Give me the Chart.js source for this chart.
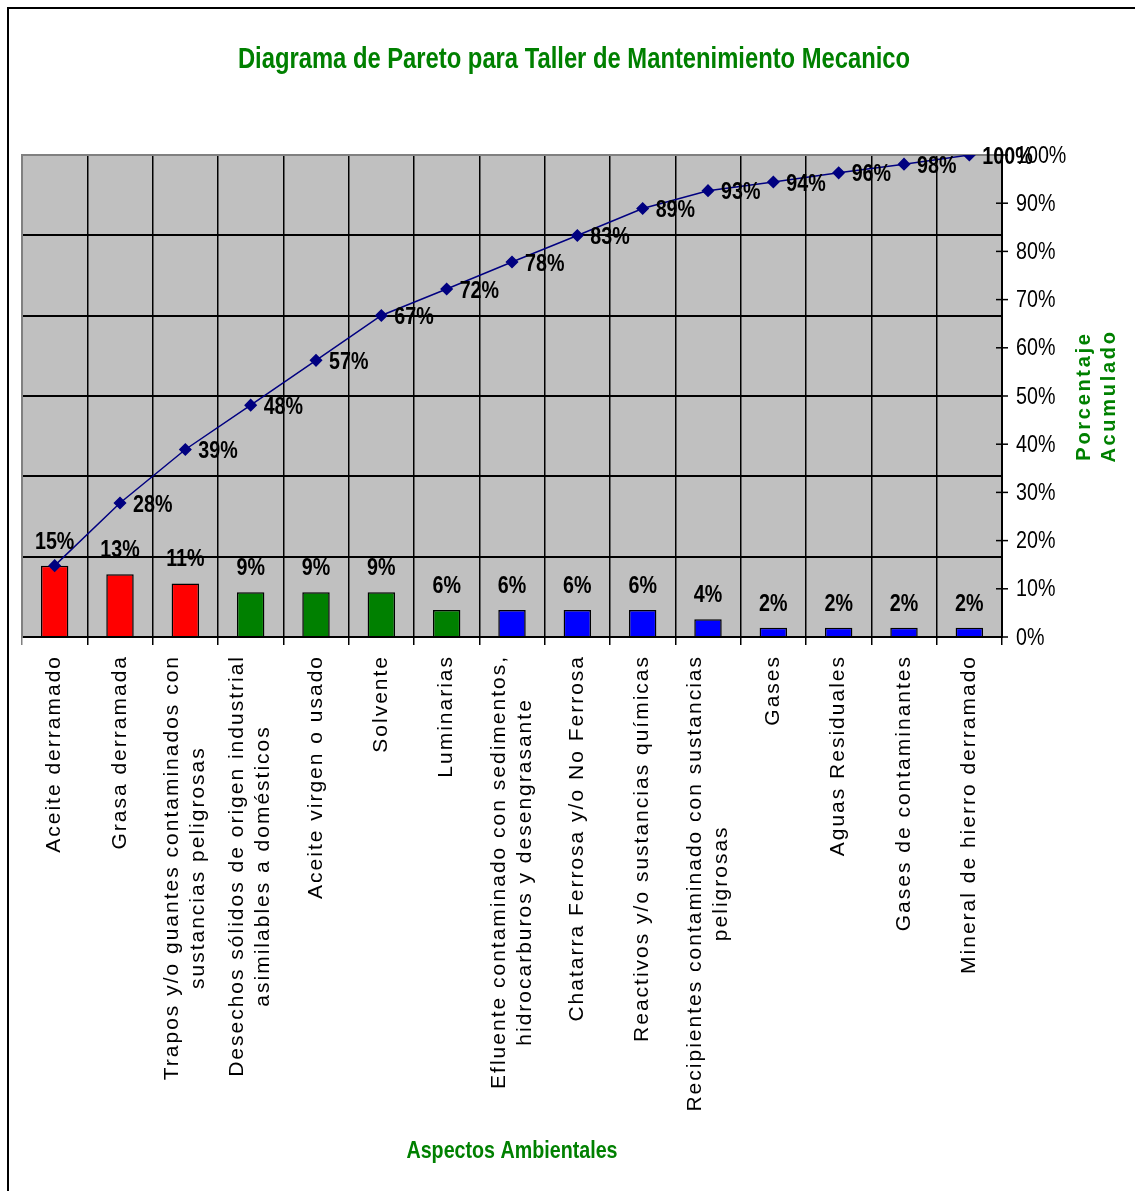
<!DOCTYPE html>
<html>
<head>
<meta charset="utf-8">
<script src="https://cdn.jsdelivr.net/npm/chart.js@4.4.1/dist/chart.umd.min.js"></script>
<style>
  html, body { margin: 0; padding: 0; background: #fff; }
</style>
</head>
<body>
<canvas id="paretoChart" width="1135" height="1191"></canvas>
<script>
// aspectos ambientales (eje x)
const categories = [
  'Aceite derramado',
  'Grasa derramada',
  ['Trapos y/o guantes contaminados con', 'sustancias peligrosas'],
  ['Desechos sólidos de origen industrial', 'asimilables a domésticos'],
  'Aceite virgen o usado',
  'Solvente',
  'Luminarias',
  ['Efluente contaminado con sedimentos,', 'hidrocarburos y desengrasante'],
  'Chatarra Ferrosa y/o No Ferrosa',
  'Reactivos y/o sustancias químicas',
  ['Recipientes contaminado con sustancias', 'peligrosas'],
  'Gases',
  'Aguas Residuales',
  'Gases de contaminantes',
  'Mineral de hierro derramado'
];
// porcentaje de cada aspecto
const barPercent = [14.8, 13.0, 11.1, 9.3, 9.3, 9.3, 5.6, 5.6, 5.6, 5.6, 3.7, 1.9, 1.9, 1.9, 1.9];
// porcentaje acumulado
const cumulativePercent = [14.8, 27.8, 38.9, 48.1, 57.4, 66.7, 72.2, 77.8, 83.3, 88.9, 92.6, 94.4, 96.3, 98.1, 100];

const barColors = [
  '#FF0000', '#FF0000', '#FF0000',
  '#008000', '#008000', '#008000', '#008000',
  '#0000FF', '#0000FF', '#0000FF', '#0000FF', '#0000FF', '#0000FF', '#0000FF', '#0000FF'
];

const GREEN = '#008000';
const NAVY = '#000080';
const SQUEEZE = 0.82; // imita Arial Narrow

function narrowText(ctx, text, x, y, font, color, align, baseline) {
  ctx.save();
  ctx.font = font;
  ctx.fillStyle = color;
  ctx.textAlign = align;
  ctx.textBaseline = baseline;
  ctx.translate(x, y);
  ctx.scale(SQUEEZE, 1);
  ctx.fillText(text, 0, 0);
  ctx.restore();
}

const decor = {
  id: 'decor',
  beforeDraw(chart) {
    const { ctx, chartArea: a } = chart;
    ctx.save();
    ctx.fillStyle = '#fff';
    ctx.fillRect(0, 0, chart.width, chart.height);
    ctx.fillStyle = '#C0C0C0';
    ctx.fillRect(a.left, a.top, a.right - a.left, a.bottom - a.top);
    ctx.restore();
  },
  afterDraw(chart) {
    const { ctx, chartArea: a } = chart;
    const xs = chart.scales.x;
    const y2 = chart.scales.y2;
    const boldNarrow = 'bold 24px "Liberation Sans", Arial, sans-serif';

    // marco exterior
    ctx.save();
    ctx.strokeStyle = '#000';
    ctx.lineWidth = 2;
    ctx.strokeRect(8, 8, 1140, 1200);
    ctx.restore();

    // titulo
    narrowText(ctx, 'Diagrama de Pareto para Taller de Mantenimiento Mecanico',
      574, 60, 'bold 29px "Liberation Sans", Arial, sans-serif', GREEN, 'center', 'middle');

    // etiquetas de barras
    const barMeta = chart.getDatasetMeta(1);
    barMeta.data.forEach((el, i) => {
      narrowText(ctx, Math.round(barPercent[i]) + '%', el.x, el.y - 17, boldNarrow, '#000', 'center', 'alphabetic');
    });

    // etiquetas del acumulado
    const lineMeta = chart.getDatasetMeta(0);
    lineMeta.data.forEach((el, i) => {
      if (i === 0) return;
      narrowText(ctx, Math.round(cumulativePercent[i]) + '%', el.x + 13, el.y + 2, boldNarrow, '#000', 'left', 'middle');
    });

    // eje derecho: marcas cruzadas y textos
    ctx.save();
    ctx.strokeStyle = '#000';
    ctx.lineWidth = 1.5;
    y2.ticks.forEach(t => {
      const py = y2.getPixelForValue(t.value);
      ctx.beginPath();
      ctx.moveTo(a.right - 6, py);
      ctx.lineTo(a.right + 6, py);
      ctx.stroke();
      narrowText(ctx, t.value + '%', a.right + 14, py + 1,
        '24px "Liberation Sans", Arial, sans-serif', '#000', 'left', 'middle');
    });
    ctx.restore();

    // etiquetas del eje x (rotadas)
    ctx.save();
    ctx.font = '21px "Liberation Sans", Arial, sans-serif';
    ctx.letterSpacing = '2px';
    ctx.fillStyle = '#000';
    categories.forEach((lab, i) => {
      const lines = Array.isArray(lab) ? lab : [lab];
      const cx = xs.getPixelForValue(i);
      const maxW = Math.max(...lines.map(l => ctx.measureText(l).width));
      lines.forEach((l, j) => {
        const lx = cx + (j - (lines.length - 1) / 2) * 26;
        ctx.save();
        ctx.translate(lx, a.bottom + 18 + maxW / 2);
        ctx.rotate(-Math.PI / 2);
        ctx.textAlign = 'center';
        ctx.textBaseline = 'middle';
        ctx.fillText(l, 0, 0);
        ctx.restore();
      });
    });
    ctx.restore();

    // titulo eje x
    narrowText(ctx, 'Aspectos Ambientales', (a.left + a.right) / 2, 1151,
      boldNarrow, GREEN, 'center', 'middle');

    // titulo eje derecho
    ctx.save();
    ctx.font = 'bold 20px "Liberation Sans", Arial, sans-serif';
    ctx.letterSpacing = '2.7px';
    ctx.fillStyle = GREEN;
    ctx.textAlign = 'center';
    ctx.textBaseline = 'middle';
    ['Porcentaje', 'Acumulado'].forEach((t, j) => {
      ctx.save();
      ctx.translate(a.right + 82 + j * 25, (a.top + a.bottom) / 2);
      ctx.rotate(-Math.PI / 2);
      ctx.fillText(t, 0, 0);
      ctx.restore();
    });
    ctx.restore();
  }
};

new Chart(document.getElementById('paretoChart'), {
  data: {
    labels: categories,
    datasets: [{
      type: 'line',
      label: 'Porcentaje Acumulado',
      data: cumulativePercent,
      yAxisID: 'y',
      borderColor: NAVY,
      backgroundColor: NAVY,
      borderWidth: 1.5,
      pointStyle: 'rectRot',
      pointRadius: 5.5,
      pointBackgroundColor: NAVY,
      pointBorderColor: NAVY,
      tension: 0,
      order: 0
    }, {
      type: 'bar',
      label: 'Porcentaje',
      data: barPercent,
      yAxisID: 'y',
      backgroundColor: barColors,
      borderColor: '#000',
      borderWidth: 1.5,
      barPercentage: 0.42,
      categoryPercentage: 1,
      order: 1
    }]
  },
  options: {
    responsive: false,
    animation: false,
    layout: {
      padding: { left: 22, top: 155, right: 133, bottom: 546 }
    },
    plugins: {
      legend: { display: false },
      tooltip: { enabled: false },
      title: { display: false }
    },
    scales: {
      x: {
        offset: true,
        ticks: { display: false },
        grid: {
          offset: true,
          color: ctx => ctx.index === 0 ? '#808080' : '#000',
          lineWidth: 1.5,
          drawTicks: true,
          tickLength: 8
        },
        border: { display: true, color: '#000', width: 2 }
      },
      y: {
        position: 'left',
        min: 0,
        max: 100,
        ticks: { display: false, count: 7 },
        grid: {
          color: ctx => ctx.tick && ctx.tick.value >= 99.9 ? '#808080' : '#000',
          lineWidth: 2,
          drawTicks: false
        },
        border: { display: true, color: '#808080', width: 2 }
      },
      y2: {
        position: 'right',
        min: 0,
        max: 100,
        ticks: { display: false, stepSize: 10 },
        grid: { drawOnChartArea: false, drawTicks: false },
        border: { display: true, color: '#000', width: 2 }
      }
    }
  },
  plugins: [decor]
});
</script>
</body>
</html>
